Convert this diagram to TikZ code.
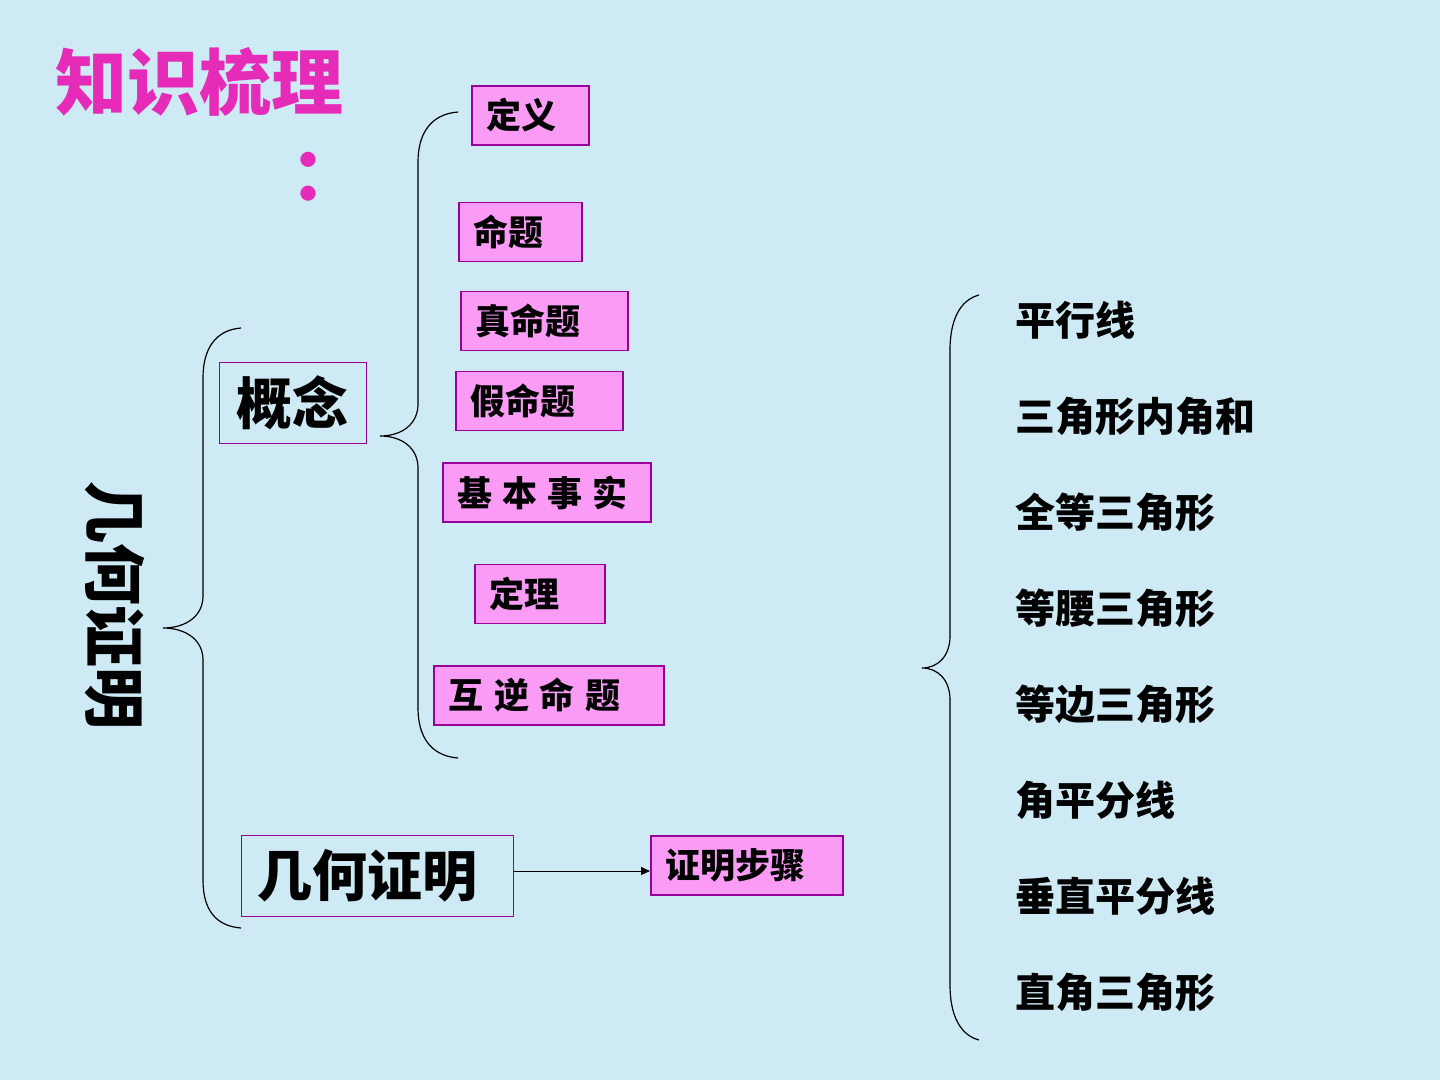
\documentclass[tikz,border=0pt]{standalone}
\usepackage{fontspec}
\newfontfamily\cjk{Noto Sans CJK SC}
\usetikzlibrary{arrows.meta}
\definecolor{bgblue}{HTML}{CDEAF5}
\definecolor{pinkfill}{HTML}{FA9CF5}
\definecolor{boxline}{HTML}{990099}
\definecolor{titlemag}{HTML}{E52BB8}
\tikzset{
  pbox/.style={draw=boxline, fill=pinkfill, line width=1.6pt, anchor=west,
    font=\cjk\bfseries\fontsize{35}{40}\selectfont, minimum height=59pt,
    inner xsep=15pt, inner ysep=0pt, align=left},
  obox/.style={draw=boxline, line width=1pt,
    font=\cjk\bfseries\fontsize{56}{62}\selectfont, inner ysep=0pt},
  item/.style={anchor=west, font=\cjk\bfseries\fontsize{40}{46}\selectfont, inner sep=0pt},
  brace/.style={line width=1.2pt, black}
}
\begin{document}
\begin{tikzpicture}[x=1pt,y=-1pt]
\fill[bgblue] (0,0) rectangle (1440,1080);
\useasboundingbox (0,0) rectangle (1440,1080);

% title
\node[font=\cjk\bfseries\fontsize{72}{80}\selectfont, text=titlemag, anchor=west, inner sep=0pt] (title) at (55,82) {知识梳理};
\node[font=\cjk\bfseries\fontsize{72}{80}\selectfont, text=titlemag, inner sep=0pt] (colon) at (326,177) {：};

% vertical title
\node[rotate=-90, font=\cjk\bfseries\fontsize{62}{68}\selectfont, inner sep=0pt] (vt) at (115,605) {几何证明};

% main boxes
\node[obox, minimum width=147pt, minimum height=81pt] (gn) at (292.5,402.5) {概念};
\node[obox, minimum width=272pt, minimum height=81pt, text width=240pt, inner xsep=16pt, align=left, font=\cjk\bfseries\fontsize{55}{62}\selectfont] (jh) at (377,875.5) {几何证明};

% concept boxes
\node[pbox, text width=87pt] (dy) at (471,115.5) {定义};
\node[pbox, text width=93pt] (mt) at (458,232) {命题};
\node[pbox, text width=137pt] (zmt) at (460,321) {真命题};
\node[pbox, text width=137pt] (jmt) at (455,401) {假命题};
\node[pbox, text width=178pt] (jbss) at (442,492.5) {基\hspace{0.28em}本\hspace{0.28em}事\hspace{0.28em}实};
\node[pbox, text width=100pt] (dl) at (474,594) {定理};
\node[pbox, text width=200pt] (hnmt) at (433,695.5) {互\hspace{0.3em}逆\hspace{0.3em}命\hspace{0.3em}题};
\node[pbox, text width=162pt] (zmbz) at (650,865.5) {证明步骤};

\coordinate (arrowy) at (0,871);
\draw[line width=0.9pt, -{Triangle[length=9pt,width=8pt]}] (jh.east |- arrowy) -- (zmbz.west |- arrowy);

% right list
\node[item] (r1) at (1015,320) {平行线};
\node[item] (r2) at (1015,416) {三角形内角和};
\node[item] (r3) at (1015,512) {全等三角形};
\node[item] (r4) at (1015,608) {等腰三角形};
\node[item] (r5) at (1015,704) {等边三角形};
\node[item] (r6) at (1015,800) {角平分线};
\node[item] (r7) at (1015,896) {垂直平分线};
\node[item] (r8) at (1015,992) {直角三角形};

% braces
\coordinate (b1t) at (241,328);
\coordinate (b1m) at (163,628);
\coordinate (b1b) at (241,928);
\draw[brace] (b1t) .. controls (216,330) and (203,348) .. (203,378) -- (203,596)
  .. controls (203,616) and (186,628) .. (b1m)
  .. controls (186,628) and (203,640) .. (203,660) -- (203,880)
  .. controls (203,910) and (216,926) .. (b1b);

\coordinate (b2t) at (458,112);
\coordinate (b2m) at (380,436);
\coordinate (b2b) at (458,758);
\draw[brace] (b2t) .. controls (432,114) and (418,132) .. (418,162) -- (418,404)
  .. controls (418,424) and (402,436) .. (b2m)
  .. controls (402,436) and (418,448) .. (418,468) -- (418,708)
  .. controls (418,738) and (432,756) .. (b2b);

\coordinate (b3t) at (979,295);
\coordinate (b3m) at (922,668);
\coordinate (b3b) at (979,1040);
\draw[brace] (b3t) .. controls (960,300) and (950,320) .. (950,350) -- (950,636)
  .. controls (950,656) and (938,668) .. (b3m)
  .. controls (938,668) and (950,680) .. (950,700) -- (950,985)
  .. controls (950,1015) and (960,1035) .. (b3b);
\end{tikzpicture}
\end{document}
